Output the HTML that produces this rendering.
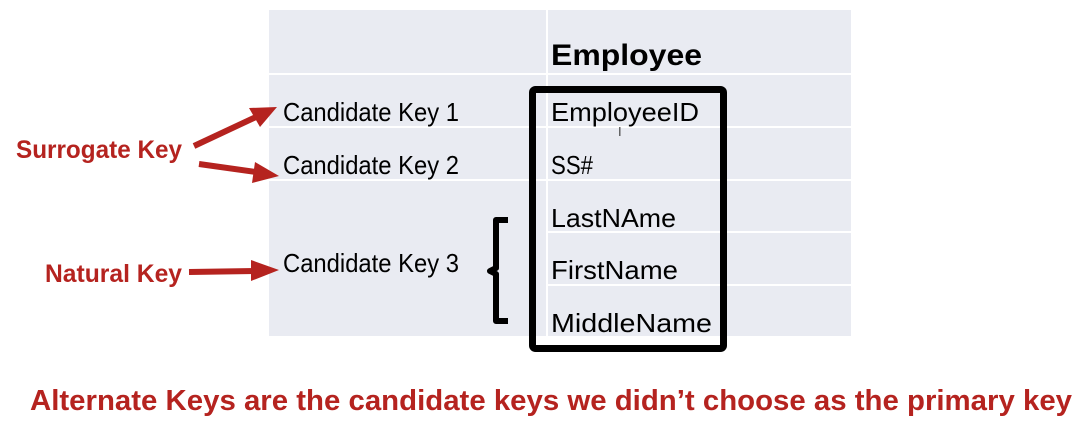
<!DOCTYPE html>
<html><head><meta charset="utf-8"><style>
html,body{margin:0;padding:0;background:#fff;width:1090px;height:434px;overflow:hidden}
svg{display:block}
</style></head><body>
<svg width="1090" height="434" viewBox="0 0 1090 434" xmlns="http://www.w3.org/2000/svg" font-family="Liberation Sans, sans-serif">
<rect x="269" y="10" width="582" height="326" fill="#e9ebf2"/>
<g stroke="#fff" stroke-width="2">
<line x1="547" y1="10" x2="547" y2="336"/>
<line x1="269" y1="74" x2="851" y2="74"/>
<line x1="269" y1="127" x2="851" y2="127"/>
<line x1="269" y1="180" x2="851" y2="180"/>
<line x1="547" y1="232" x2="851" y2="232"/>
<line x1="547" y1="285" x2="851" y2="285"/>
</g>
<rect x="532.5" y="89.5" width="191" height="259" rx="3" fill="none" stroke="#000" stroke-width="7"/>
<path d="M508 220 H496 V268 L490 271 L496 274 V321 H508" fill="none" stroke="#000" stroke-width="6" stroke-linejoin="round"/>
<g font-size="26" fill="#000">
<text x="283" y="121" textLength="176" lengthAdjust="spacingAndGlyphs">Candidate Key 1</text>
<text x="283" y="174" textLength="176" lengthAdjust="spacingAndGlyphs">Candidate Key 2</text>
<text x="283" y="272" textLength="176" lengthAdjust="spacingAndGlyphs">Candidate Key 3</text>
<text x="551" y="121" textLength="148" lengthAdjust="spacingAndGlyphs">EmployeeID</text>
<text x="551" y="174" textLength="42" lengthAdjust="spacingAndGlyphs">SS#</text>
<text x="551" y="227" textLength="125" lengthAdjust="spacingAndGlyphs">LastNAme</text>
<text x="551" y="279" textLength="127" lengthAdjust="spacingAndGlyphs">FirstName</text>
<text x="551" y="332" textLength="161" lengthAdjust="spacingAndGlyphs">MiddleName</text>
</g>
<text x="551" y="65" font-size="30" font-weight="bold" textLength="151" lengthAdjust="spacingAndGlyphs">Employee</text>
<text x="618" y="136" font-size="13" fill="#444">I</text>
<g fill="#b5231f" font-weight="bold">
<text x="16" y="158" font-size="25" textLength="166" lengthAdjust="spacingAndGlyphs">Surrogate Key</text>
<text x="45" y="282" font-size="25" textLength="137" lengthAdjust="spacingAndGlyphs">Natural Key</text>
<text x="30" y="410" font-size="29" textLength="1042" lengthAdjust="spacingAndGlyphs">Alternate Keys are the candidate keys we didn’t choose as the primary key</text>
</g>
<g stroke="#b5231f" stroke-width="6" fill="#b5231f">
<line x1="194" y1="146" x2="258" y2="116"/>
<line x1="199" y1="164" x2="256" y2="172"/>
<line x1="189" y1="272" x2="256" y2="271"/>
</g>
<g fill="#b5231f">
<polygon points="277,107 249,108 260,127"/>
<polygon points="279,176 255,162 252,183"/>
<polygon points="279,270 251,260 251,281"/>
</g>
</svg>
</body></html>
